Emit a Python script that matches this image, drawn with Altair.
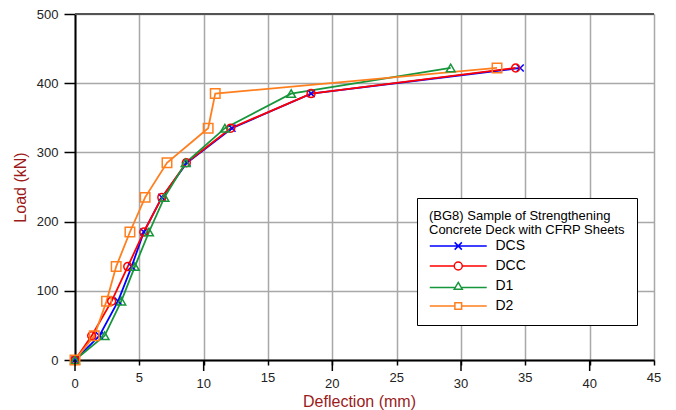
import altair as alt
import pandas as pd

series = ["DCS", "DCC", "D1", "D2"]
loads = [0, 35, 85, 135, 185, 235, 285, 335, 385, 422]
defl_dcs = [0, 1.9, 3.35, 4.4, 5.35, 6.75, 8.7, 12.2, 18.35, 34.6]
defl_dcc = [0, 1.3, 2.85, 4.1, 5.35, 6.75, 8.65, 12.1, 18.35, 34.25]
defl_d1 = [0, 2.3, 3.6, 4.65, 5.75, 6.95, 8.6, 11.65, 16.8, 29.2]
defl_d2 = [0, 1.5, 2.45, 3.2, 4.27, 5.45, 7.15, 10.35, 10.9, 32.8]
x_ticks_all = [0, 5, 10, 15, 20, 25, 30, 35, 40, 45]
x_ticks_major = [0, 10, 20, 30, 40]
x_ticks_minor = [5, 15, 25, 35, 45]

colors = ["#0000ff", "#ff0000", "#17963b", "#ff7f1e"]
marker_shapes = ["M-1,-1L1,1M-1,1L1,-1", "circle", "triangle-up", "square"]
marker_sizes = [50, 90, 75, 32]
legend_shapes = [
    "M-3.56,0H3.56M-0.45,-0.45L0.45,0.45M-0.45,0.45L0.45,-0.45",
    "M-3.56,0H-0.5M0.5,0H3.56M0.5,0A0.5,0.5,0,1,1,-0.5,0A0.5,0.5,0,1,1,0.5,0",
    "M-3.56,0.2H-0.45M0.45,0.2H3.56M0,-0.45L0.5,0.4L-0.5,0.4Z",
    "M-3.56,0H-0.42M0.42,0H3.56M-0.42,-0.42H0.42V0.42H-0.42Z",
]

rows = []
for name, xs in zip(series, [defl_dcs, defl_dcc, defl_d1, defl_d2]):
    for i, (x, y) in enumerate(zip(xs, loads)):
        rows.append({"Series": name, "Deflection": x, "Load": y, "idx": i})
df = pd.DataFrame(rows)
major_df = pd.DataFrame({"Deflection": x_ticks_major, "lab": [str(v) for v in x_ticks_major]})
minor_df = pd.DataFrame({"Deflection": x_ticks_minor, "lab": [str(v) for v in x_ticks_minor]})

FONT = "Liberation Sans"
x_scale = alt.Scale(domain=[0, 45], nice=False)

x_enc = alt.X(
    "Deflection:Q",
    scale=x_scale,
    axis=alt.Axis(
        orient="bottom",
        values=x_ticks_all,
        labels=False,
        title="Deflection (mm)",
        titleColor="#9b1b1b",
        titleFontSize=16,
        titleFontWeight="normal",
        titleFont=FONT,
        titleBaseline="middle",
        titleX=284,
        titleY=41,
        tickSize=5,
        tickColor="#000000",
        tickWidth=1.5,
        domainColor="#000000",
        domainWidth=2,
        gridColor="#a8a8a8",
        gridWidth=1.5,
    ),
)
y_enc = alt.Y(
    "Load:Q",
    scale=alt.Scale(domain=[0, 500], nice=False),
    axis=alt.Axis(
        values=list(range(0, 501, 50)),
        labelExpr="datum.value % 100 === 0 ? datum.label : ''",
        title="Load (kN)",
        titleColor="#9b1b1b",
        titleFontSize=16,
        titleFontWeight="normal",
        titleFont=FONT,
        titleBaseline="middle",
        titleAngle=270,
        titleX=-55,
        titleY=173,
        labelFont=FONT,
        labelFontSize=13,
        labelColor="#222222",
        labelPadding=6,
        labelFlush=False,
        tickSize={"condition": {"test": "datum.value % 100 === 0", "value": 11}, "value": 5},
        tickColor="#000000",
        tickWidth=1.5,
        domainColor="#000000",
        domainWidth=2,
        gridColor="#a8a8a8",
        gridWidth=1.5,
        gridOpacity={"condition": {"test": "datum.value % 100 === 0", "value": 1}, "value": 0},
    ),
)

base = alt.Chart(df)

lines = base.mark_line(strokeWidth=1.8).encode(
    x=x_enc,
    y=y_enc,
    color=alt.Color("Series:N", scale=alt.Scale(domain=series, range=colors), legend=None),
    order="idx:Q",
)

points = base.mark_point(filled=False, strokeWidth=1.5, opacity=1).encode(
    x="Deflection:Q",
    y="Load:Q",
    color=alt.Color("Series:N", scale=alt.Scale(domain=series, range=colors), legend=None),
    shape=alt.Shape("Series:N", scale=alt.Scale(domain=series, range=marker_shapes), legend=None),
    size=alt.Size("Series:N", scale=alt.Scale(domain=series, range=marker_sizes), legend=None),
)

major_ticks = alt.Chart(major_df).mark_rule(color="#000000", strokeWidth=1.5).encode(
    x="Deflection:Q",
    y=alt.value(346),
    y2=alt.value(357),
)
major_labels = alt.Chart(major_df).mark_text(
    font=FONT, fontSize=13, color="#222222", baseline="top", align="center"
).encode(x="Deflection:Q", y=alt.value(364), text="lab:N")
minor_labels = alt.Chart(minor_df).mark_text(
    font=FONT, fontSize=13, color="#222222", baseline="top", align="center"
).encode(x="Deflection:Q", y=alt.value(358), text="lab:N")

legend_title = ["(BG8) Sample of Strengthening", "Concrete Deck with CFRP Sheets"]
leg = alt.Legend(
    title=legend_title,
    orient="none",
    legendX=342,
    legendY=184,
    titleFont=FONT,
    titleFontSize=13,
    titleFontWeight="normal",
    titleColor="#000000",
    titleAnchor="start",
    titleAlign="left",
    titleLimit=400,
    titleLineHeight=14,
    titlePadding=0,
    labelFont=FONT,
    labelFontSize=14,
    labelColor="#000000",
    symbolSize=256,
    symbolStrokeWidth=1.5,
    symbolOpacity=1,
    symbolOffset=20.25,
    labelOffset=28.25,
    rowPadding=4,
    padding=12,
    strokeColor="#000000",
    fillColor="#ffffff",
    cornerRadius=0,
)

legend_layer = base.mark_point(filled=False, opacity=0).encode(
    x="Deflection:Q",
    y="Load:Q",
    color=alt.Color("Series:N", scale=alt.Scale(domain=series, range=colors), legend=leg),
    shape=alt.Shape("Series:N", scale=alt.Scale(domain=series, range=legend_shapes), legend=leg),
)

top_rule = alt.Chart(df).mark_rule(color="#555555", strokeWidth=1.5).encode(y=alt.datum(500))

chart = (
    alt.layer(lines, points, top_rule, major_ticks, major_labels, minor_labels, legend_layer)
    .resolve_scale(color="independent", shape="independent")
    .properties(
        width=579,
        height=346,
        autosize=alt.AutoSizeParams(type="none"),
        padding={"left": 75, "top": 14, "right": 22, "bottom": 50},
    )
    .configure_view(stroke=None)
    .configure(background="#ffffff")
)

chart.save("out.html", embed_options={"renderer": "svg", "actions": False})
